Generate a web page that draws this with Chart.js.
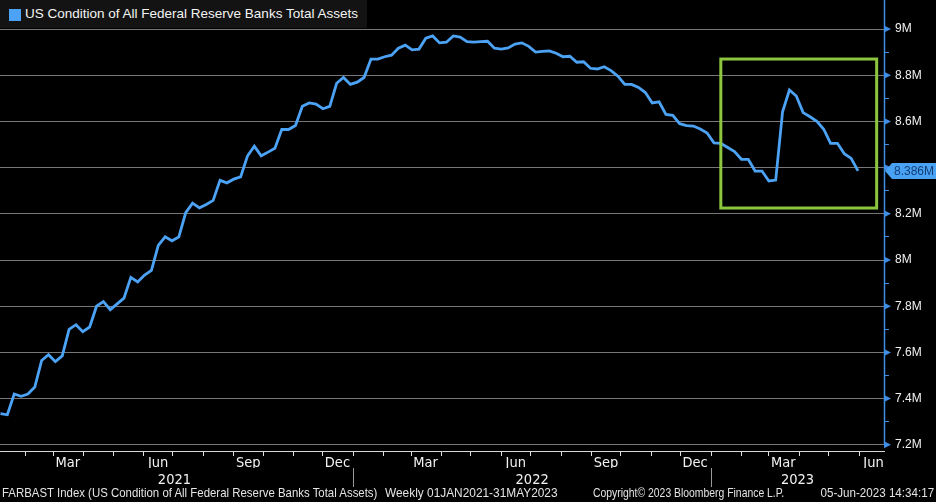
<!DOCTYPE html>
<html>
<head>
<meta charset="UTF-8">
<title>FARBAST Index</title>
<script src="https://cdn.jsdelivr.net/npm/chart.js"></script>
<style>
  body { margin: 0; background: #000; }
  .wrap { position: relative; width: 936px; height: 502px; background: #000; overflow: hidden; }
  canvas { position: absolute; left: 0; top: 0; }
  .legend {
    position: absolute; left: 0; top: 0; width: 367px; height: 28px;
    background: #131313; color: #f4f4f4;
    font-family: "Liberation Sans", Arial, sans-serif; font-size: 13.5px; line-height: 28px;
  }
  .legend i { position: absolute; left: 9px; top: 9px; width: 12px; height: 12px; background: #4ca3f5; }
  .legend span { position: absolute; left: 25px; top: 0; white-space: nowrap; }
  .foot {
    position: absolute; top: 485px; white-space: nowrap; color: #e4e4e4;
    font-family: "Liberation Sans", Arial, sans-serif; font-size: 13.5px;
    transform-origin: left center;
  }
  .foot.r { transform-origin: right center; }
</style>
</head>
<body>
<div class="wrap">
  <canvas id="fed" width="936" height="502"></canvas>
  <div class="legend"><i></i><span id="legendText"></span></div>
  <div class="foot" style="left:2px; transform:scaleX(0.846)">FARBAST Index (US Condition of All Federal Reserve Banks Total Assets)</div>
  <div class="foot" style="left:385px; transform:scaleX(0.88)">Weekly 01JAN2021-31MAY2023</div>
  <div class="foot" style="left:593px; transform:scaleX(0.77)">Copyright&copy; 2023 Bloomberg Finance L.P.</div>
  <div class="foot r" style="right:2px; transform:scaleX(0.86)">05-Jun-2023 14:34:17</div>
</div>

<script>
// weekly values (in M, i.e. millions of USD millions)
const start2021 = '2021-01-06';
const assets2021 = [
  7.335, 7.33, 7.42, 7.41, 7.42, 7.45, 7.565, 7.59, 7.56, 7.585,
  7.70, 7.72, 7.69, 7.71, 7.80, 7.82, 7.785, 7.81, 7.835, 7.925,
  7.905, 7.935, 7.955, 8.063, 8.10, 8.083, 8.10, 8.205, 8.246, 8.226,
  8.24, 8.258, 8.345, 8.334, 8.35, 8.36, 8.45, 8.493, 8.451, 8.467,
  8.484, 8.565, 8.565, 8.582, 8.666, 8.68, 8.675, 8.655, 8.665, 8.765,
  8.79, 8.76
];
const start2022 = '2022-01-05';
const assets2022 = [
  8.77, 8.79, 8.87, 8.87, 8.88, 8.887, 8.917, 8.93, 8.91, 8.913,
  8.96, 8.97, 8.94, 8.943, 8.97, 8.965, 8.945, 8.943, 8.945, 8.947,
  8.917, 8.913, 8.918, 8.935, 8.94, 8.925, 8.90, 8.903, 8.905, 8.895,
  8.88, 8.882, 8.856, 8.858, 8.83, 8.827, 8.837, 8.82, 8.796, 8.76,
  8.76, 8.747, 8.725, 8.68, 8.685, 8.63, 8.626, 8.59, 8.582, 8.58,
  8.567, 8.55
];
const start2023 = '2023-01-04';
const assets2023 = [
  8.507, 8.505, 8.487, 8.469, 8.436, 8.436, 8.385, 8.385, 8.342, 8.346,
  8.642, 8.736, 8.71, 8.638, 8.62, 8.60, 8.566, 8.505, 8.505, 8.46,
  8.44, 8.386
];

const seriesName = 'US Condition of All Federal Reserve Banks Total Assets';
const monthNames = ['Jan', 'Feb', 'Mar', 'Apr', 'May', 'Jun', 'Jul', 'Aug', 'Sep', 'Oct', 'Nov', 'Dec'];
const labelledMonths = ['Mar', 'Jun', 'Sep', 'Dec'];
const years = [2021, 2022, 2023];
const yMajor = [7.2, 7.4, 7.6, 7.8, 8.0, 8.2, 8.4, 8.6, 8.8, 9.0];
const lastLabel = '8.386M';
// green box drawn around the 2023 move
const highlight = { from: '2023-01-11', to: '2023-06-19', low: 8.225, high: 8.87 };

const BLUE = '#4ca3f5';
const AXIS_BLUE = '#3f8fe6';
const X_MIN = 4.5, X_MAX = 906.5;
const Y_MIN = 7.1732, Y_MAX = 9.0996;
const NARROW = '"Liberation Sans Narrow", "DejaVu Sans Condensed", sans-serif';

document.getElementById('legendText').textContent = seriesName;

const DAY0 = Date.UTC(2021, 0, 1);
function dayOf(iso) { return (Date.parse(iso) - DAY0) / 864e5; }
function weekly(startIso, values) {
  const d0 = dayOf(startIso);
  return values.map((v, i) => ({ x: d0 + 7 * i, y: v }));
}
const points = [].concat(
  weekly(start2021, assets2021),
  weekly(start2022, assets2022),
  weekly(start2023, assets2023)
);
const lastValue = points[points.length - 1].y;

// month start ticks
const monthTicks = [];
years.forEach(yr => {
  for (let m = 0; m < 12; m++) {
    const d = (Date.UTC(yr, m, 1) - DAY0) / 864e5;
    if (d >= X_MIN && d <= X_MAX) monthTicks.push(d);
  }
});
const yearStarts = years.map(yr => (Date.UTC(yr, 0, 1) - DAY0) / 864e5);
const yearCenters = years.map((yr, i) => {
  const a = yearStarts[i];
  const b = Math.min((Date.UTC(yr + 1, 0, 1) - DAY0) / 864e5, X_MAX);
  return (a + b) / 2;
});
const yTicks = [];
yMajor.forEach((v, i) => {
  yTicks.push(v);
  if (i < yMajor.length - 1) yTicks.push(+(v + 0.1).toFixed(1));
});
const isMajor = v => Math.abs(v * 5 - Math.round(v * 5)) < 1e-6;

const decor = {
  id: 'decor',
  afterDraw(chart) {
    const { ctx, chartArea: a, scales } = chart;
    const x = scales.x, y = scales.y, xy = scales.xYear;
    ctx.save();

    // green highlight box
    const l = x.getPixelForValue(dayOf(highlight.from));
    const r = x.getPixelForValue(dayOf(highlight.to));
    const t = y.getPixelForValue(highlight.high);
    const b = y.getPixelForValue(highlight.low);
    ctx.strokeStyle = '#8cc63f';
    ctx.lineWidth = 3;
    ctx.strokeRect(l, t, r - l, b - t);

    // right axis line and tick arrows
    ctx.strokeStyle = AXIS_BLUE;
    ctx.lineWidth = 1.5;
    ctx.beginPath();
    ctx.moveTo(a.right + 0.5, 0);
    ctx.lineTo(a.right + 0.5, y.getPixelForValue(yMajor[0]));
    ctx.stroke();
    ctx.fillStyle = AXIS_BLUE;
    y.ticks.forEach(tk => {
      if (!isMajor(tk.value)) return;
      const py = y.getPixelForValue(tk.value);
      ctx.beginPath();
      ctx.moveTo(a.right, py - 3.5);
      ctx.lineTo(a.right + 7, py);
      ctx.lineTo(a.right, py + 3.5);
      ctx.closePath();
      ctx.fill();
    });

    // year separators
    ctx.strokeStyle = '#9a9a9a';
    ctx.lineWidth = 1;
    yearStarts.forEach(d => {
      if (d <= X_MIN || d >= X_MAX) return;
      const px = Math.round(x.getPixelForValue(d)) + 0.5;
      ctx.beginPath();
      ctx.moveTo(px, xy.top);
      ctx.lineTo(px, xy.bottom);
      ctx.stroke();
    });

    // last value badge
    const py = Math.round(y.getPixelForValue(lastValue));
    ctx.fillStyle = '#4aa2f4';
    ctx.beginPath();
    ctx.moveTo(a.right + 1, py);
    ctx.lineTo(a.right + 8, py - 8);
    ctx.lineTo(chart.width, py - 8);
    ctx.lineTo(chart.width, py + 8);
    ctx.lineTo(a.right + 8, py + 8);
    ctx.closePath();
    ctx.fill();
    ctx.fillStyle = '#123e73';
    ctx.font = '12px "Liberation Sans", Arial, sans-serif';
    ctx.textBaseline = 'middle';
    ctx.textAlign = 'left';
    ctx.fillText(lastLabel, a.right + 10, py + 0.5);
    ctx.restore();
  }
};

const ctx = document.getElementById('fed').getContext('2d');
new Chart(ctx, {
  type: 'line',
  data: {
    datasets: [{
      label: seriesName,
      data: points,
      borderColor: BLUE,
      borderWidth: 2.8,
      pointRadius: 0,
      tension: 0,
      fill: false
    }]
  },
  options: {
    responsive: false,
    animation: false,
    layout: { padding: { left: 0, top: 0, right: 0, bottom: 15 } },
    plugins: { legend: { display: false }, tooltip: { enabled: false } },
    scales: {
      x: {
        type: 'linear',
        position: 'bottom',
        weight: 0,
        min: X_MIN,
        max: X_MAX,
        afterBuildTicks: s => { s.ticks = monthTicks.map(v => ({ value: v })); },
        afterFit: s => { s.height = 17; },
        ticks: {
          autoSkip: false,
          maxRotation: 0,
          padding: 0,
          labelOffset: 14.5,
          color: '#f2f2f2',
          font: { family: NARROW, size: 14.5, lineHeight: 1 },
          callback: v => {
            const name = monthNames[new Date(DAY0 + v * 864e5).getUTCMonth()];
            return labelledMonths.includes(name) ? name : '';
          }
        },
        grid: { drawOnChartArea: false, drawTicks: true, tickLength: 5, color: '#e0e0e0' },
        border: { display: true, color: '#d8d8d8', width: 1 }
      },
      xYear: {
        type: 'linear',
        position: 'bottom',
        weight: 1,
        min: X_MIN,
        max: X_MAX,
        afterBuildTicks: s => { s.ticks = yearCenters.map(v => ({ value: v })); },
        afterFit: s => { s.height = 19; },
        ticks: {
          autoSkip: false,
          maxRotation: 0,
          padding: -3,
          color: '#f2f2f2',
          font: { family: NARROW, size: 14.5, lineHeight: 1 },
          callback: (v, i) => String(years[i])
        },
        grid: { display: false },
        border: { display: false }
      },
      y: {
        type: 'linear',
        position: 'right',
        min: Y_MIN,
        max: Y_MAX,
        afterBuildTicks: s => { s.ticks = yTicks.map(v => ({ value: v })); },
        afterFit: s => { s.width = 52; },
        ticks: {
          padding: 6,
          color: '#f2f2f2',
          font: { family: '"Liberation Sans", Arial, sans-serif', size: 12, lineHeight: 0 },
          // the label under the last-value badge is hidden, as in the terminal view
          callback: v => (isMajor(v) && Math.abs(v - lastValue) > 0.05) ? (+v.toFixed(1)) + 'M' : ''
        },
        grid: {
          color: c => (c.tick && isMajor(c.tick.value)) ? '#777777' : 'rgba(0,0,0,0)',
          lineWidth: 1,
          drawTicks: true,
          tickLength: 5,
          tickColor: AXIS_BLUE
        },
        border: { display: false }
      }
    }
  },
  plugins: [decor]
});
</script>
</body>
</html>
